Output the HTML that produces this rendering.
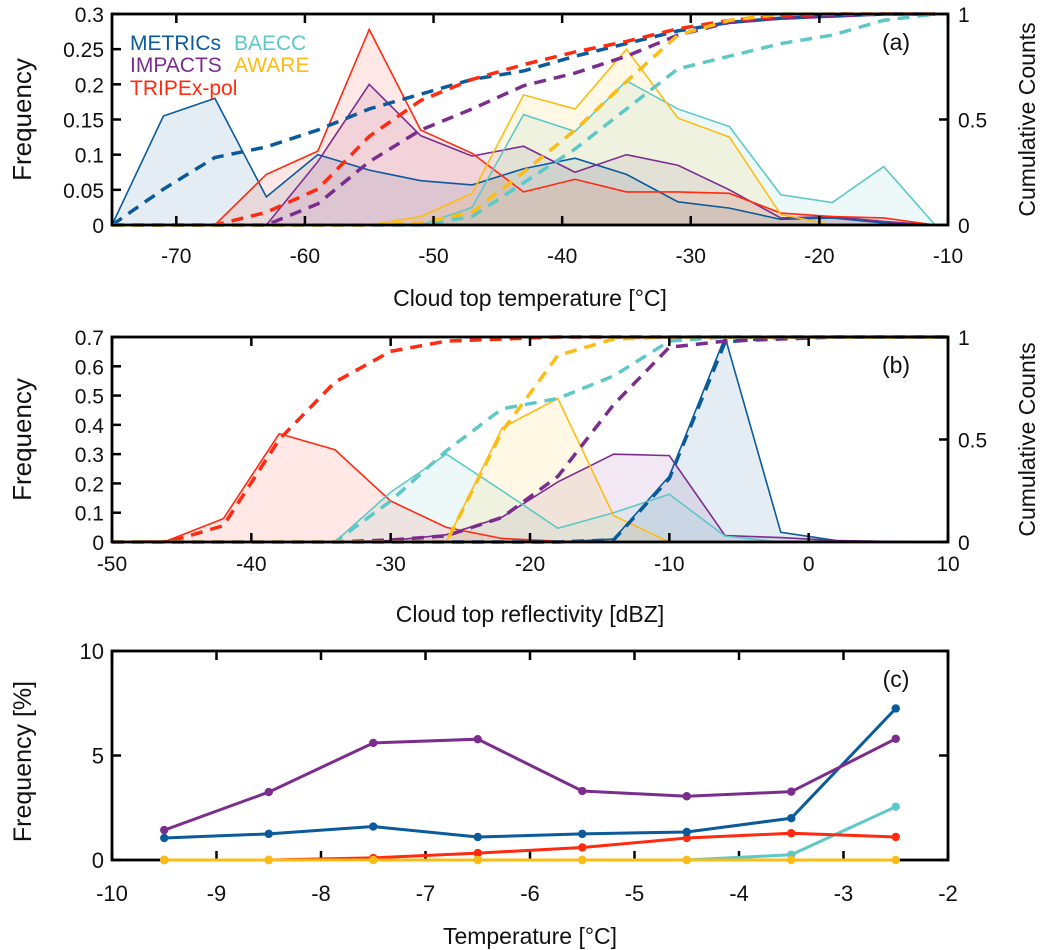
<!DOCTYPE html>
<html><head><meta charset="utf-8">
<style>
body{margin:0;background:#fff;}
svg{display:block;font-family:"Liberation Sans",Arial,sans-serif;}
</style></head>
<body>
<svg id="chart" width="1043" height="950" viewBox="0 0 1043 950"></svg>
<script>
// ---- shared
const seriesNames = ["METRICs","IMPACTS","TRIPEx-pol","BAECC","AWARE"];
const seriesColors = ["#0a5a9c","#7b2d8e","#ff2a10","#5ec8c8","#fbbd15"];
// ---- panel (a)
const tempBins = [-75,-71,-67,-63,-59,-55,-51,-47,-43,-39,-35,-31,-27,-23,-19,-15,-11];
const aMetrics = [0,0.155,0.18,0.04,0.1,0.078,0.063,0.057,0.08,0.095,0.072,0.033,0.024,0.008,0.01,0.003,0];
const aImpacts = [0,0,0,0,0.09,0.2,0.127,0.098,0.112,0.075,0.1,0.085,0.05,0.01,0.012,0.005,0];
const aTripex  = [0,0,0,0.072,0.105,0.278,0.135,0.102,0.047,0.065,0.047,0.047,0.045,0.017,0.012,0.01,0];
const aBaecc   = [0,0,0,0,0,0,0,0.025,0.157,0.133,0.205,0.165,0.14,0.043,0.032,0.083,0];
const aAware   = [0,0,0,0,0,0,0.012,0.045,0.185,0.165,0.25,0.152,0.125,0.015,0,0,0];
const aCumMetrics = [0,0.17,0.32,0.37,0.45,0.55,0.62,0.69,0.73,0.8,0.86,0.92,0.96,0.98,0.99,1,1];
const aCumImpacts = [0,0,0,0,0.1,0.3,0.45,0.55,0.66,0.72,0.8,0.9,0.96,0.98,0.99,1,1];
const aCumTripex  = [0,0,0,0.06,0.17,0.42,0.59,0.69,0.76,0.82,0.87,0.93,0.97,0.99,1,1,1];
const aCumBaecc   = [0,0,0,0,0,0,0,0.04,0.2,0.36,0.55,0.74,0.8,0.86,0.9,0.97,1];
const aCumAware   = [0,0,0,0,0,0,0.01,0.06,0.25,0.45,0.68,0.9,0.97,1,1,1,1];
const aXTicks = [-70,-60,-50,-40,-30,-20,-10];
const aYTicks = [0,0.05,0.1,0.15,0.2,0.25,0.3];
const aYTickLabels = ["0","0.05","0.1","0.15","0.2","0.25","0.3"];
const aRTicks = [0,0.5,1];
// ---- panel (b)
const dbzBins = [-50,-46,-42,-38,-34,-30,-26,-22,-18,-14,-10,-6,-2,2,6,10];
const bMetrics = [0,0,0,0,0,0,0,0,0,0.01,0.225,0.7,0.033,0.005,0,0];
const bImpacts = [0,0,0,0,0,0.005,0.025,0.085,0.205,0.3,0.295,0.022,0.015,0.005,0.002,0];
const bTripex  = [0,0.005,0.08,0.37,0.315,0.14,0.05,0.012,0.003,0,0,0,0,0,0,0];
const bBaecc   = [0,0,0,0,0,0.17,0.3,0.175,0.047,0.1,0.163,0.02,0,0,0,0];
const bAware   = [0,0,0,0,0,0,0,0.39,0.49,0.09,0,0,0,0,0,0];
const bCumMetrics = [0,0,0,0,0,0,0,0,0,0.01,0.31,0.975,1,1,1,1];
const bCumImpacts = [0,0,0,0,0,0.01,0.03,0.12,0.32,0.67,0.95,0.98,0.99,1,1,1];
const bCumTripex  = [0,0,0.08,0.5,0.78,0.93,0.98,0.99,1,1,1,1,1,1,1,1];
const bCumBaecc   = [0,0,0,0,0,0.2,0.445,0.65,0.7,0.81,0.98,1,1,1,1,1];
const bCumAware   = [0,0,0,0,0,0,0,0.54,0.91,0.99,1,1,1,1,1,1];
const bXTicks = [-50,-40,-30,-20,-10,0,10];
const bYTicks = [0,0.1,0.2,0.3,0.4,0.5,0.6,0.7];
const bRTicks = [0,0.5,1];
// ---- panel (c)
const cTemps = [-9.5,-8.5,-7.5,-6.5,-5.5,-4.5,-3.5,-2.5];
const cMetrics = [1.05,1.25,1.6,1.1,1.25,1.34,2.0,7.25];
const cImpacts = [1.43,3.25,5.6,5.78,3.3,3.05,3.27,5.8];
const cTripex  = [0,0,0.1,0.33,0.6,1.05,1.28,1.1];
const cBaecc   = [0,0,0,0,0,0,0.25,2.55];
const cAware   = [0,0,0,0,0,0,0,0];
const cXTicks = [-10,-9,-8,-7,-6,-5,-4,-3,-2];
const cYTicks = [0,5,10];

const NS="http://www.w3.org/2000/svg";
const svg=document.getElementById('chart');
function mk(tag,attrs,parent){const e=document.createElementNS(NS,tag);for(const k in attrs)e.setAttribute(k,attrs[k]);(parent||svg).appendChild(e);return e;}
function txt(s,x,y,size,anchor,parent,rot){const t=mk('text',{x:x,y:y,'font-size':size,'text-anchor':anchor||'middle',fill:'#111'},parent);if(rot)t.setAttribute('transform','rotate(-90 '+x+' '+y+')');t.textContent=s;return t;}
function lin(d0,d1,p0,p1){return v=>p0+(v-d0)/(d1-d0)*(p1-p0);}

function frame(g,L,R,T,B,xTicks,xs,yTicks,ys,yLab,rTicks,rs,xLabY,fs){
  const tl=9;
  xTicks.forEach(v=>{const x=xs(v);
    mk('line',{x1:x,x2:x,y1:B,y2:B-tl,stroke:'#000','stroke-width':2.5},g);
    mk('line',{x1:x,x2:x,y1:T,y2:T+tl,stroke:'#000','stroke-width':2.5},g);
    const t=txt(String(v),x,xLabY,fs,'middle',g);
    });
  yTicks.forEach((v,i)=>{const y=ys(v);
    mk('line',{x1:L,x2:L+tl,y1:y,y2:y,stroke:'#000','stroke-width':2.5},g);
    if(!rTicks) mk('line',{x1:R,x2:R-tl,y1:y,y2:y,stroke:'#000','stroke-width':2.5},g);
    const t=txt(yLab?yLab[i]:String(v),L-8,y+8,fs,'end',g);
    });
  if(rTicks) rTicks.forEach(v=>{const y=rs(v);
    mk('line',{x1:R,x2:R-tl,y1:y,y2:y,stroke:'#000','stroke-width':2.5},g);
    const t=txt(String(v),R+10,y+8,fs,'start',g);
    });
  const b=mk('rect',{x:L,y:T,width:R-L,height:B-T,fill:'none',stroke:'#000','stroke-width':2.8},g);
  
}

function distPanel(name,L,R,T,B,xd,yd,bins,freqs,cums,xTicks,yTicks,yLab,rTicks,letter,xLabel,xLabY,titleY){
  const g=mk('g',{});
  const xs=lin(xd[0],xd[1],L,R), ys=lin(0,yd,B,T), rs=lin(0,1,B,T);
  freqs.forEach((f,i)=>{
    let d='M'+xs(bins[0])+','+ys(0);
    bins.forEach((b,j)=>d+=' L'+xs(b)+','+ys(f[j]));
    d+=' L'+xs(bins[bins.length-1])+','+ys(0)+' Z';
    const p=mk('path',{d:d,fill:seriesColors[i],'fill-opacity':0.11,stroke:'none'},g);
    
  });
  freqs.forEach((f,i)=>{
    const pts=bins.map((b,j)=>xs(b)+','+ys(f[j])).join(' ');
    const p=mk('polyline',{points:pts,fill:'none',stroke:seriesColors[i],'stroke-width':1.6},g);
    
  });
  cums.forEach((c,i)=>{
    const pts=bins.map((b,j)=>xs(b)+','+rs(c[j])).join(' ');
    const p=mk('polyline',{points:pts,fill:'none',stroke:seriesColors[i],'stroke-width':3.5,'stroke-dasharray':'12 8'},g);
    
  });
  frame(g,L,R,T,B,xTicks,xs,yTicks,ys,yLab,rTicks,rs,xLabY,21);
  let t=txt(letter,R-52,T+36,23,'middle',g);
  t=txt(xLabel,(L+R)/2,titleY,23,'middle',g);
  t=txt('Frequency',31,(T+B)/2,26,'middle',g,true);
  t=txt('Cumulative Counts',1035,(T+B)/2,23,'middle',g,true);
  return g;
}

const gA=distPanel('panel-a',112,948,14,225,[-75,-10],0.3,tempBins,
  [aMetrics,aImpacts,aTripex,aBaecc,aAware],[aCumMetrics,aCumImpacts,aCumTripex,aCumBaecc,aCumAware],
  aXTicks,aYTicks,aYTickLabels,aRTicks,'(a)','Cloud top temperature [°C]',263,306);
// legend
const legPos=[[130,50],[130,72],[130,95],[234,50],[234,72]];
seriesNames.forEach((n,i)=>{
  const t=txt(n,legPos[i][0],legPos[i][1],21,'start',gA);
  t.setAttribute('fill',seriesColors[i]);
  
  
});
distPanel('panel-b',112,948,337,542,[-50,10],0.7,dbzBins,
  [bMetrics,bImpacts,bTripex,bBaecc,bAware],[bCumMetrics,bCumImpacts,bCumTripex,bCumBaecc,bCumAware],
  bXTicks,bYTicks,null,bRTicks,'(b)','Cloud top reflectivity [dBZ]',571,622);

// panel c
(function(){
  const L=112,R=948,T=651,B=860;
  const g=mk('g',{});
  const xs=lin(-10,-2,L,R), ys=lin(0,10,B,T);
  frame(g,L,R,T,B,cXTicks,xs,cYTicks,ys,null,null,null,901,22);
  const data=[cMetrics,cImpacts,cTripex,cBaecc,cAware];
  const order=[3,2,0,1,4];
  order.forEach(i=>{
    const v=data[i];
    const pts=cTemps.map((t,j)=>xs(t)+','+ys(v[j])).join(' ');
    const p=mk('polyline',{points:pts,fill:'none',stroke:seriesColors[i],'stroke-width':3},g);
    
    cTemps.forEach((t,j)=>{
      const c=mk('circle',{cx:xs(t),cy:ys(v[j]),r:4.2,fill:seriesColors[i]},g);
      
    });
  });
  let t=txt('(c)',R-52,T+36,23,'middle',g);
  t=txt('Temperature [°C]',(L+R)/2,944,23,'middle',g);
  t=txt('Frequency [%]',31,(T+B)/2+6,25,'middle',g,true);
})();
</script>
</body></html>
